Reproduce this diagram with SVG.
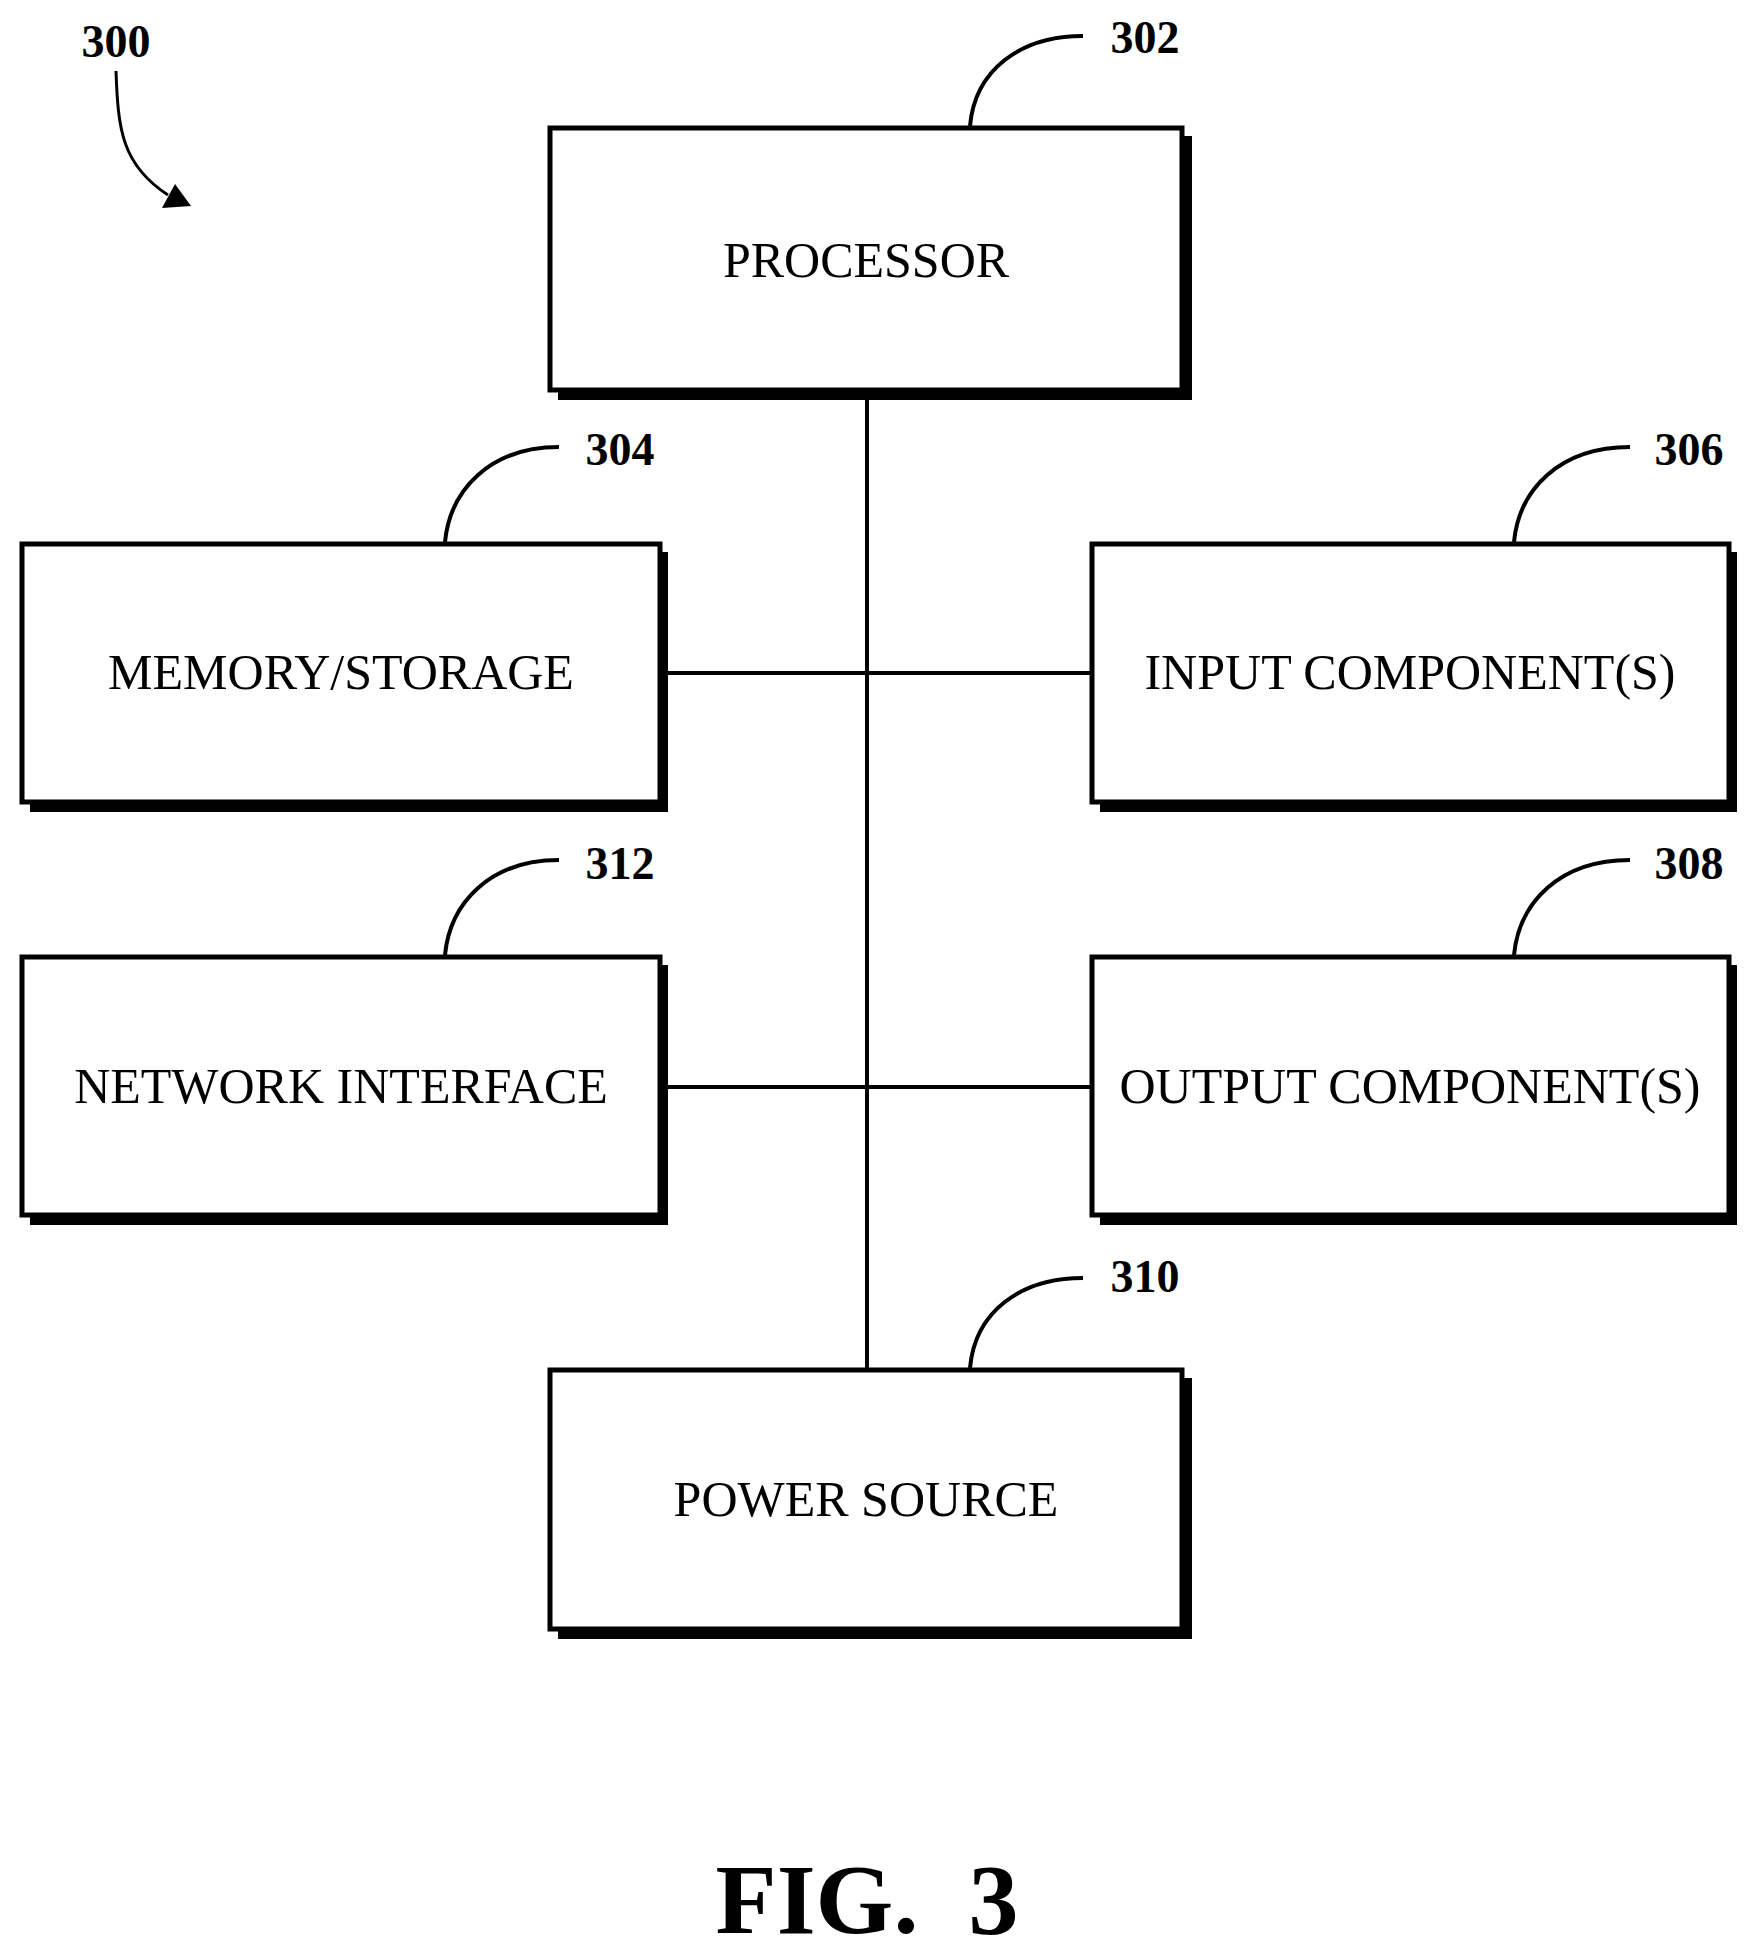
<svg xmlns="http://www.w3.org/2000/svg" width="1755" height="1956" viewBox="0 0 1755 1956">
<style>
.box{fill:#fff;stroke:#000;stroke-width:5}
.sh{fill:#000}
.lbl{font-family:"Liberation Serif",serif;font-size:50px;text-anchor:middle}
.num{font-family:"Liberation Serif",serif;font-size:46px;font-weight:bold;text-anchor:middle}
.ln{stroke:#000;stroke-width:4;fill:none}
</style>
<rect width="1755" height="1956" fill="#fff"/>
<g id="connectors">
<line class="ln" x1="867" y1="391" x2="867" y2="1368"/>
<line class="ln" x1="668" y1="673" x2="1092" y2="673"/>
<line class="ln" x1="668" y1="1087" x2="1092" y2="1087"/>
<path class="ln" d="M970,126 C975,70 1020,36 1083,36"/>
<path class="ln" d="M445,542 C450,490 490,447 559,447"/>
<path class="ln" d="M1514,542 C1519,490 1559,447 1630,447"/>
<path class="ln" d="M445,955 C450,903 490,860 559,860"/>
<path class="ln" d="M1514,955 C1519,903 1559,860 1630,860"/>
<path class="ln" d="M970,1368 C975,1312 1020,1278 1083,1278"/>
<path d="M116,71 C118,130 122,165 168,195" stroke="#000" stroke-width="3" fill="none"/>
<path d="M162,208 L191,206 L175,184 z"/>
</g>
<text class="num" x="116" y="57">300</text>
<g id="n302"><rect class="sh" x="558" y="136" width="634" height="264"/><rect class="box" x="550" y="128" width="632" height="262"/><text class="lbl" x="866" y="277">PROCESSOR</text><text class="num" x="1145" y="53">302</text></g>
<g id="n304"><rect class="sh" x="30" y="552" width="638" height="260"/><rect class="box" x="22" y="544" width="638" height="258"/><text class="lbl" x="341" y="689">MEMORY/STORAGE</text><text class="num" x="620" y="465">304</text></g>
<g id="n306"><rect class="sh" x="1100" y="552" width="637" height="260"/><rect class="box" x="1092" y="544" width="637" height="258"/><text class="lbl" x="1410" y="689">INPUT COMPONENT(S)</text><text class="num" x="1689" y="465">306</text></g>
<g id="n312"><rect class="sh" x="30" y="965" width="638" height="260"/><rect class="box" x="22" y="957" width="638" height="258"/><text class="lbl" x="341" y="1103">NETWORK INTERFACE</text><text class="num" x="620" y="879">312</text></g>
<g id="n308"><rect class="sh" x="1100" y="965" width="637" height="260"/><rect class="box" x="1092" y="957" width="637" height="258"/><text class="lbl" x="1410" y="1103">OUTPUT COMPONENT(S)</text><text class="num" x="1689" y="879">308</text></g>
<g id="n310"><rect class="sh" x="558" y="1378" width="634" height="261"/><rect class="box" x="550" y="1370" width="632" height="259"/><text class="lbl" x="866" y="1516">POWER SOURCE</text><text class="num" x="1145" y="1292">310</text></g>
<text x="867" y="1933" font-family="Liberation Serif,serif" font-size="100" font-weight="bold" text-anchor="middle" xml:space="preserve">FIG.  3</text>
</svg>
